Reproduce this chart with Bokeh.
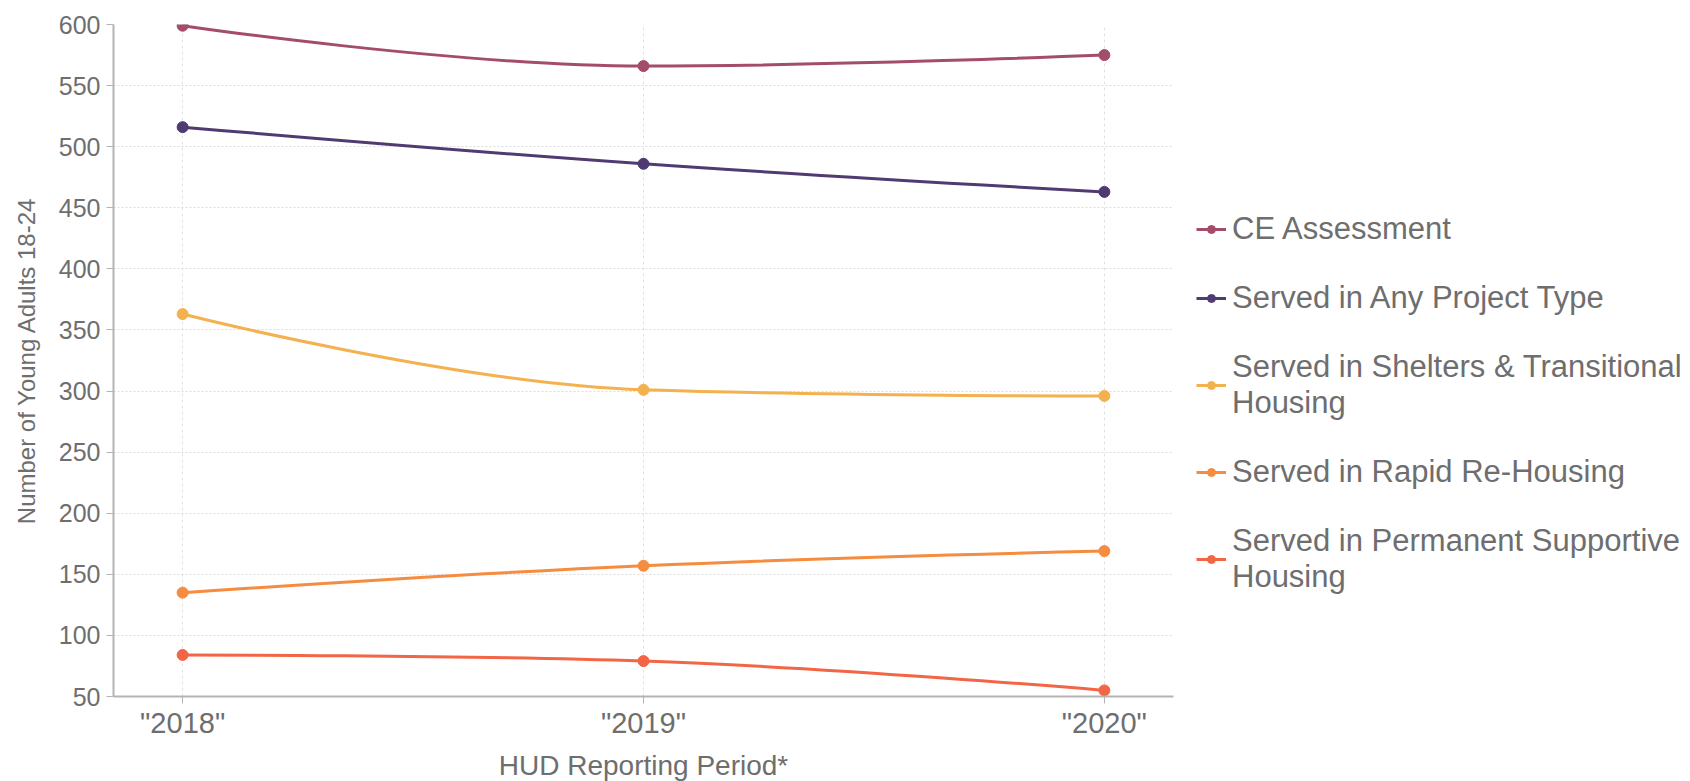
import numpy as np
from bokeh.plotting import figure
from bokeh.models import Range1d, FixedTicker, Legend, LegendItem
from bokeh.embed import file_html
from bokeh.resources import INLINE

# ---------------- data ----------------
years = ["2018", "2019", "2020"]
ce_assessment = [599, 566, 575]
any_project_type = [516, 486, 463]
shelters_transitional = [363, 301, 296]
rapid_rehousing = [135, 157, 169]
permanent_supportive = [84, 79, 55]

series_labels = [
    "CE Assessment",
    "Served in Any Project Type",
    "Served in Shelters & Transitional\nHousing",
    "Served in Rapid Re-Housing",
    "Served in Permanent Supportive\nHousing",
]
series_values = [ce_assessment, any_project_type, shelters_transitional,
                 rapid_rehousing, permanent_supportive]
series_colors = ["#a44d6b", "#4f3a72", "#f4b14f", "#f58c3f", "#f26545"]
y_ticks = list(range(50, 601, 50))
x_tick_labels = ['"%s"' % y for y in years]

TEXT = "#6e6e6e"
FONT = "Liberation Sans"


def spline_beziers(xs, ys, smoothing=1.5):
    """Bezier control points of a smoothed spline (flat at local extremes,
    control point on the end points) through the data points."""
    xs = [float(v) for v in xs]
    ys = [float(v) for v in ys]
    n = len(xs)
    denom = smoothing + 1
    lcx, lcy, rcx, rcy = list(xs), list(ys), list(xs), list(ys)
    for i in range(1, n - 1):
        x, y = xs[i], ys[i]
        lx, ly, nx, ny = xs[i - 1], ys[i - 1], xs[i + 1], ys[i + 1]
        lX = (smoothing * x + lx) / denom
        lY = (smoothing * y + ly) / denom
        rX = (smoothing * x + nx) / denom
        rY = (smoothing * y + ny) / denom
        if rX != lX:
            corr = ((rY - lY) * (rX - x)) / (rX - lX) + y - rY
            lY += corr
            rY += corr
        if lY > ly and lY > y:
            lY = max(ly, y)
            rY = 2 * y - lY
        elif lY < ly and lY < y:
            lY = min(ly, y)
            rY = 2 * y - lY
        if rY > ny and rY > y:
            rY = max(ny, y)
            lY = 2 * y - rY
        elif rY < ny and rY < y:
            rY = min(ny, y)
            lY = 2 * y - rY
        lcx[i], lcy[i], rcx[i], rcy[i] = lX, lY, rX, rY
    return dict(x0=xs[:-1], y0=ys[:-1], x1=xs[1:], y1=ys[1:],
                cx0=rcx[:-1], cy0=rcy[:-1], cx1=lcx[1:], cy1=lcy[1:])


x_idx = list(range(len(years)))

p = figure(frame_width=1060, frame_height=672,
           x_range=Range1d(-0.15, 2.15), y_range=Range1d(50, 600),
           output_backend="svg", toolbar_location=None,
           min_border_left=113, min_border_top=24, min_border_bottom=84,
           min_border_right=0, outline_line_color=None,
           background_fill_color="white", border_fill_color="white")

# axes
p.xaxis.ticker = FixedTicker(ticks=x_idx)
p.xaxis.major_label_overrides = {i: lab for i, lab in zip(x_idx, x_tick_labels)}
p.yaxis.ticker = FixedTicker(ticks=y_ticks)
p.xaxis.axis_label = "HUD Reporting Period*"
p.yaxis.axis_label = "Number of Young Adults 18-24"
for ax in (p.xaxis[0], p.yaxis[0]):
    ax.axis_line_color = "#b4b4b4"
    ax.axis_line_width = 2
    ax.major_tick_line_color = "#b4b4b4"
    ax.major_tick_out = 7
    ax.major_tick_in = 0
    ax.minor_tick_line_color = None
    ax.major_label_text_color = TEXT
    ax.major_label_text_font = FONT
    ax.axis_label_text_color = TEXT
    ax.axis_label_text_font = FONT
    ax.axis_label_text_font_style = "normal"
p.xaxis.major_label_text_font_size = "29px"
p.yaxis.major_label_text_font_size = "25px"
p.xaxis.axis_label_text_font_size = "28px"
p.yaxis.axis_label_text_font_size = "24px"
p.xaxis.major_label_standoff = 3
p.yaxis.major_label_standoff = 6
p.xaxis.axis_label_standoff = 8
p.yaxis.axis_label_standoff = 16
p.xaxis.major_tick_line_width = 1
p.yaxis.major_tick_line_width = 1

# grids
p.ygrid.grid_line_color = "#dcdcdc"
p.ygrid.grid_line_dash = "2 2"
p.ygrid.grid_line_width = 1
p.xgrid.grid_line_color = "#e2e2e2"
p.xgrid.grid_line_dash = "3 3"
p.xgrid.grid_line_width = 1

items = []
for label, vals, col in zip(series_labels, series_values, series_colors):
    src = spline_beziers(x_idx, vals)
    r_line = p.bezier(x0="x0", y0="y0", x1="x1", y1="y1", cx0="cx0", cy0="cy0",
                      cx1="cx1", cy1="cy1", source=src, line_color=col, line_width=3)
    r_pts = p.scatter(x=x_idx, y=vals, size=11, fill_color=col, line_color=col)
    items.append(LegendItem(label=label, renderers=[r_line, r_pts]))

legend = Legend(items=items, location=(23, 101), orientation="vertical",
                label_text_font=FONT, label_text_font_size="31px",
                label_text_color=TEXT, label_standoff=6,
                glyph_width=30, glyph_height=20, spacing=33,
                margin=13, padding=10, border_line_color=None,
                background_fill_alpha=0)
p.add_layout(legend, "right")

open("out.html", "w").write(file_html(p, INLINE))
